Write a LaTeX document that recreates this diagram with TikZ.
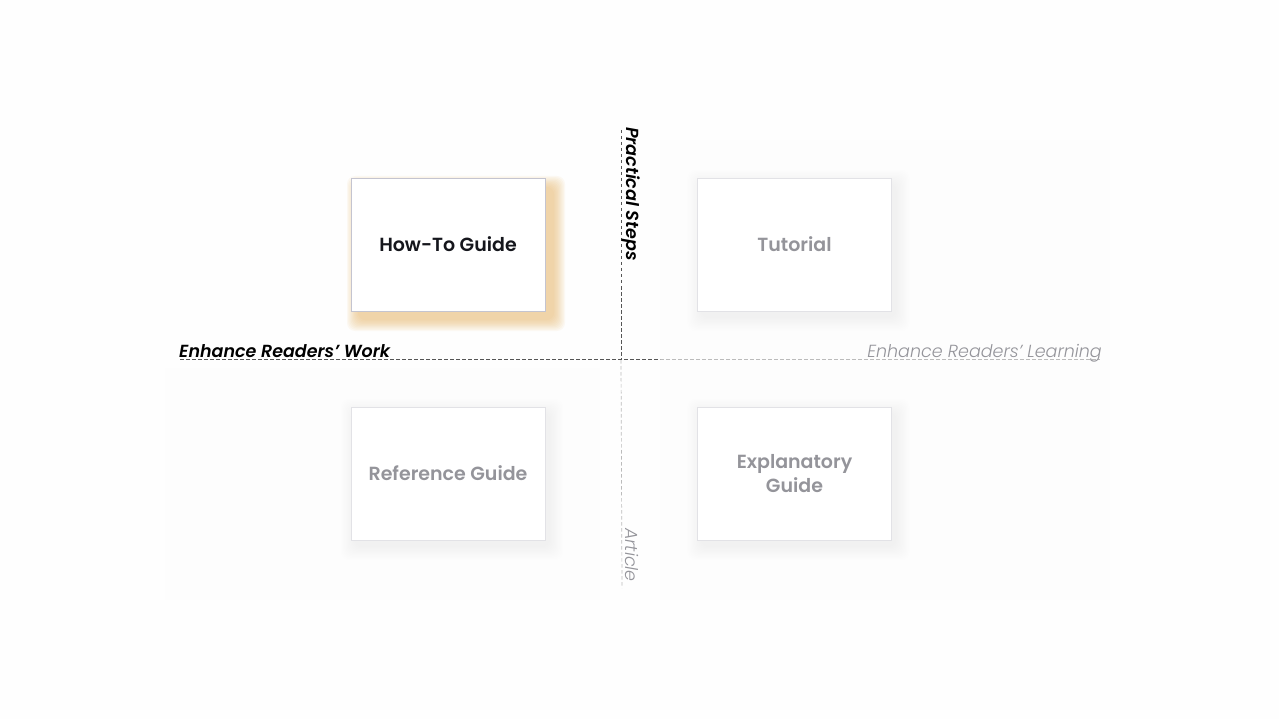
\documentclass[tikz,border=0pt]{standalone}
\usepackage{fontspec}
\setmainfont{Poppins}[BoldFont={Poppins SemiBold}, BoldItalicFont={Poppins SemiBold Italic}, ItalicFont={Poppins Light Italic}]
\definecolor{darkline}{HTML}{555555}
\definecolor{lightline}{HTML}{BBBBBB}
\definecolor{boxedge}{HTML}{E2E2E6}
\definecolor{hotedge}{HTML}{C4C4D0}
\definecolor{graytext}{HTML}{94949A}
\definecolor{darktext}{HTML}{15161C}
\definecolor{glow}{HTML}{E8B460}
\definecolor{shade}{HTML}{808080}
\definecolor{bgcol}{HTML}{FEFEFE}
\definecolor{panel}{HTML}{FDFDFD}
\tikzset{
  card/.style={draw=boxedge, line width=0.8pt, fill=white, minimum width=194pt, minimum height=133pt,
    align=center, font=\fontsize{19}{24}\selectfont\bfseries, text=graytext},
  hot/.style={card, draw=hotedge, text=darktext},
  glowlayer/.style={fill=glow, fill opacity=0.07, draw=none, rounded corners=8pt},
  shadelayer/.style={fill=shade, fill opacity=0.008, draw=none, rounded corners=8pt},
  axisdark/.style={draw=darkline, dash pattern=on 3.5pt off 2.5pt, line width=0.7pt},
  axislight/.style={draw=lightline, dash pattern=on 3.5pt off 2.5pt, line width=0.7pt},
  strong/.style={font=\fontsize{17.5}{20}\selectfont\bfseries\itshape, text=black, inner sep=0pt},
  weak/.style={font=\fontsize{17.5}{20}\selectfont\itshape, text=graytext, inner sep=0pt},
}
\begin{document}
\begin{tikzpicture}[x=1pt,y=-1pt]
\useasboundingbox[fill=bgcol] (0,0) rectangle (1279,719);
% faint panels
\fill[panel] (660,140) rectangle (1110,600);
\fill[panel] (165,368) rectangle (600,600);
% axes
\coordinate (hl) at (180,359);
\coordinate (hm) at (660,359);
\coordinate (hr) at (1100,359);
\coordinate (vt) at (621,130);
\coordinate (vm) at (621,360);
\coordinate (vb) at (622,588);
\draw[axislight] (hm) -- (hr);
\draw[axislight] (vm) -- (vb);
\draw[axisdark] (hl) -- (hm);
\draw[axisdark] (vt) -- (vm);
% glow of the highlighted card
\foreach \i in {0,...,9}{
  \fill[glowlayer] (359-12+\i*1.2,188-12+\i*1.2) rectangle (553+12-\i*1.2,319+12-\i*1.2);
}
% soft shadows of the other cards
\foreach \cx/\cy in {794.5/244.5, 448/473.5, 794.5/473.5}{
  \foreach \i in {0,...,11}{
    \fill[shadelayer] (\cx-97+4-14+\i*1.2,\cy-66.5+6-14+\i*1.2) rectangle (\cx+97+4+14-\i*1.2,\cy+66.5+6+14-\i*1.2);
  }
}
% cards
\node[hot] (howto) at (448,244.5) {How-To Guide};
\node[card] (tut) at (794.5,244.5) {Tutorial};
\node[card] (ref) at (448,473.5) {Reference Guide};
\node[card] (exp) at (794.5,473.5) {Explanatory\\Guide};
% labels
\node[strong, anchor=base west] (work) at (179,357) {Enhance Readers’ Work};
\node[weak, anchor=base east] (learn) at (1102,357) {Enhance Readers’ Learning};
\node[strong, rotate=-90, anchor=north west] (steps) at (640,127) {Practical Steps};
\node[weak, rotate=-90, anchor=north west] (art) at (639,528) {Article};
\end{tikzpicture}
\end{document}
